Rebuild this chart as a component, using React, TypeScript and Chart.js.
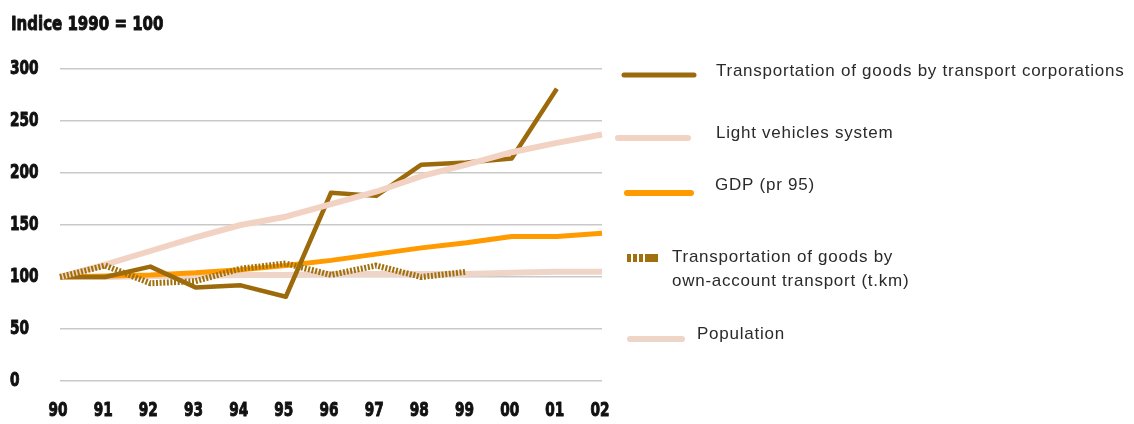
import React, { useEffect, useRef } from "react";
import { Chart, registerables } from "chart.js";

Chart.register(...registerables);

const years = ["90", "91", "92", "93", "94", "95", "96", "97", "98", "99", "00", "01", "02"];
const corporations = [100, 100, 110, 90, 92, 81, 181, 178, 208, 210, 214, 281, null];
const lightVehicles = [100, 112, 125, 138, 150, 158, 170, 182, 197, 208, 220, 229, 237];
const gdp = [100, 101, 102, 104, 107, 111, 116, 122, 128, 133, 139, 139, 142];
const ownAccount = [100, 111, 94, 96, 108, 113, 102, 111, 100, 105, null, null, null];
const population = [100, 100, 101, 101, 102, 102, 103, 103, 103, 103, 104, 105, 105];
const yTicks = [0, 50, 100, 150, 200, 250, 300];

const title = "Indice 1990 = 100";
const legendItems = [
  { text: ["Transportation of goods by transport corporations"], color: "#9C6A0B" },
  { text: ["Light vehicles system"], color: "#F2D3C3" },
  { text: ["GDP (pr 95)"], color: "#FF9A00" },
  { text: ["Transportation of goods by", "own-account transport (t.km)"], color: "#A0700E" },
  { text: ["Population"], color: "#EED5C8" },
];

const HEAVY = "'DejaVu Sans', 'Liberation Sans', sans-serif";
const SANS = "'Liberation Sans', Arial, sans-serif";

function condensedText(
  ctx: CanvasRenderingContext2D,
  text: string,
  x: number,
  y: number,
  align: CanvasTextAlign,
  sx: number
) {
  ctx.save();
  ctx.translate(x, y);
  ctx.scale(sx, 1);
  ctx.textAlign = align;
  ctx.lineWidth = 1;
  ctx.strokeStyle = ctx.fillStyle as string;
  ctx.lineJoin = "round";
  ctx.strokeText(text, 0, 0);
  ctx.fillText(text, 0, 0);
  ctx.restore();
}

const decorPlugin = {
  id: "decor",
  afterDraw(chart: any) {
    const ctx = chart.ctx as CanvasRenderingContext2D;
    ctx.save();
    // title
    ctx.fillStyle = "#111";
    ctx.font = `bold 20px ${HEAVY}`;
    ctx.textBaseline = "alphabetic";
    condensedText(ctx, title, 11, 30, "left", 0.75);

    // axis tick labels (from the chart's own scales)
    ctx.font = `bold 19px ${HEAVY}`;
    ctx.textBaseline = "middle";
    const ys = chart.scales.y;
    ys.ticks.forEach((t: any, i: number) => {
      const py = ys.getPixelForTick(i);
      condensedText(ctx, String(t.value), 10, py, "left", 0.72);
    });
    const xs = chart.scales.x;
    xs.ticks.forEach((t: any, i: number) => {
      const px = xs.getPixelForTick(i);
      condensedText(ctx, String(xs.getLabelForValue(t.value)), px - 2, 411, "center", 0.72);
    });

    // legend samples
    const line = (x1: number, x2: number, y: number, w: number, c: string) => {
      ctx.beginPath();
      ctx.lineCap = "round";
      ctx.lineWidth = w;
      ctx.strokeStyle = c;
      ctx.moveTo(x1, y);
      ctx.lineTo(x2, y);
      ctx.stroke();
    };
    line(624, 694, 75, 5, legendItems[0].color);
    line(618, 688, 138, 6, legendItems[1].color);
    line(627, 691, 193, 6, legendItems[2].color);
    ctx.fillStyle = legendItems[3].color;
    ctx.fillRect(627, 254, 4, 8);
    ctx.fillRect(633, 254, 4, 8);
    ctx.fillRect(639, 254, 4, 8);
    ctx.fillRect(645, 254, 13, 8);
    line(630, 682, 339, 6, legendItems[4].color);

    // legend texts
    ctx.fillStyle = "#2a2a2a";
    ctx.font = `17px ${SANS}`;
    (ctx as any).letterSpacing = "0.75px";
    ctx.textBaseline = "middle";
    ctx.textAlign = "left";
    const pos = [
      [716, 71],
      [716, 133],
      [715, 185],
      [672, 257],
      [697, 334],
    ];
    legendItems.forEach((it, i) => {
      it.text.forEach((t, j) => {
        ctx.fillText(t, pos[i][0], pos[i][1] + j * 24);
      });
    });
    ctx.restore();
  },
};

export default function App() {
  const ref = useRef<HTMLCanvasElement | null>(null);
  useEffect(() => {
    if (!ref.current) return;
    const chart = new Chart(ref.current, {
      type: "line",
      data: {
        labels: years,
        datasets: [
          {
            label: "Transportation of goods by transport corporations",
            data: corporations,
            borderColor: "#9C6A0B",
            borderWidth: 4.5,
            order: 2,
          },
          {
            label: "Light vehicles system",
            data: lightVehicles,
            borderColor: "#F2D3C3",
            borderWidth: 6,
            order: 1,
          },
          {
            label: "GDP (pr 95)",
            data: gdp,
            borderColor: "#FF9A00",
            borderWidth: 5,
            order: 4,
          },
          {
            label: "Transportation of goods by own-account transport (t.km)",
            data: ownAccount,
            borderColor: "#A0700E",
            borderWidth: 6,
            borderDash: [2, 1.6],
            order: 0,
          },
          {
            label: "Population",
            data: population,
            borderColor: "#EED5C8",
            borderWidth: 6,
            order: 5,
          },
        ] as any,
      },
      options: {
        animation: false,
        responsive: false,
        maintainAspectRatio: false,
        layout: { padding: { left: 10, right: 532, top: 69, bottom: 0 } },
        elements: {
          point: { radius: 0, hoverRadius: 0 },
          line: { tension: 0, fill: false, borderCapStyle: "butt", borderJoinStyle: "round" },
        },
        plugins: {
          legend: { display: false },
          title: { display: false },
          tooltip: { enabled: false },
        },
        scales: {
          x: {
            offset: false,
            grid: { display: false, drawTicks: false },
            border: { display: false },
            ticks: { display: false, autoSkip: false, maxRotation: 0 },
            afterFit: (s: any) => {
              s.height = 43;
            },
          },
          y: {
            min: 0,
            max: 300,
            afterBuildTicks: (s: any) => {
              s.ticks = yTicks.map((v) => ({ value: v }));
            },
            grid: { color: "#C9C9C9", lineWidth: 1.5, drawTicks: false },
            border: { display: false },
            ticks: { display: false },
            afterFit: (s: any) => {
              s.width = 50;
            },
          },
        },
      } as any,
      plugins: [decorPlugin],
    });
    return () => chart.destroy();
  }, []);
  return (
    <div style={{ position: "fixed", left: 0, top: 0, width: 1134, height: 424, background: "#fff" }}>
      <canvas ref={ref} width={1134} height={424} style={{ width: 1134, height: 424, display: "block" }} />
    </div>
  );
}
